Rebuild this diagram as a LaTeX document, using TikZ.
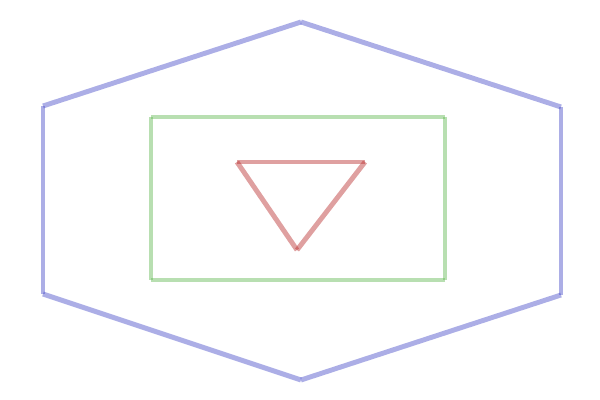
\documentclass[tikz,border=0pt]{standalone}
\usepackage{tikz}
\usetikzlibrary{calc}
\definecolor{hexblue}{RGB}{70,75,200}
\definecolor{boxgreen}{RGB}{97,185,81}
\definecolor{trired}{RGB}{185,45,45}

\begin{document}
\begin{tikzpicture}[
    edge/.style={line width=2.8pt, draw opacity=0.45},
    hexedge/.style={edge, hexblue},
    boxedge/.style={edge, boxgreen},
    triedge/.style={edge, trired}
]
    \useasboundingbox (0,0) rectangle (12,8);

    % Hexagon corners
    \coordinate (h1) at (6.02, 7.56);
    \coordinate (h2) at (11.22, 5.86);
    \coordinate (h3) at (11.22, 2.10);
    \coordinate (h4) at (6.02, 0.40);
    \coordinate (h5) at (0.86, 2.12);
    \coordinate (h6) at (0.86, 5.88);

    % Rectangle corners
    \coordinate (r1) at (3.02, 5.66);
    \coordinate (r2) at (8.90, 5.66);
    \coordinate (r3) at (8.90, 2.40);
    \coordinate (r4) at (3.02, 2.40);

    % Triangle corners
    \coordinate (t1) at (4.74, 4.76);
    \coordinate (t2) at (7.30, 4.76);
    \coordinate (t3) at (5.94, 3.00);

    % Hexagon
    \foreach \a/\b in {h1/h2, h2/h3, h3/h4, h4/h5, h5/h6, h6/h1}
        \draw[hexedge] (\a) -- (\b);

    % Rectangle
    \foreach \a/\b in {r1/r2, r2/r3, r3/r4, r4/r1}
        \draw[boxedge] (\a) -- (\b);

    % Triangle
    \foreach \a/\b in {t1/t2, t2/t3, t3/t1}
        \draw[triedge] (\a) -- (\b);
\end{tikzpicture}
\end{document}
